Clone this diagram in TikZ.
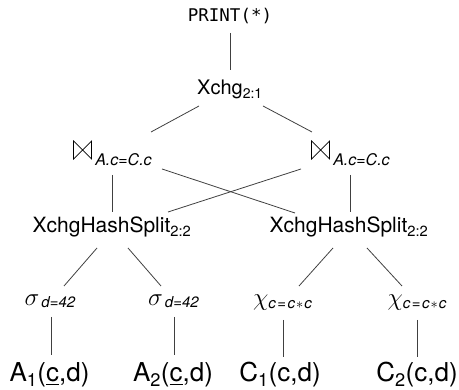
\documentclass[tikz,border=0pt]{standalone}
\usepackage{fontspec}
\usepackage{graphicx}
\setmainfont{TeX Gyre Heros}
\newfontfamily\monofont{DejaVu Sans Mono}
\usetikzlibrary{calc}
\tikzset{
  lbl/.style={inner sep=0pt, anchor=base},
  edge/.style={draw=black!75, line width=0.8pt},
  bowtie/.style={draw=black, line width=0.7pt, line join=miter},
}
\newcommand\fs[1]{\fontsize{#1}{#1}\selectfont}
\newcommand\joinlbl{\hspace{22pt}\raisebox{-7pt}{\fs{16}\itshape A.c=C.c}}
\newcommand\sellbl{{\fs{23}$\sigma$}\hspace{2pt}\raisebox{-2pt}{\fs{15}\itshape d=42}}
\newcommand\maplbl{{\fs{23}$\chi$}\raisebox{-3pt}{\fs{15}\itshape c\kern1.5pt=\kern1.5pt c\kern1pt$\ast$\kern1pt c}}
\begin{document}
\begin{tikzpicture}[x=1pt,y=-1pt]
\useasboundingbox (0,0) rectangle (459,390);
% nodes
\node[lbl] (pr) at (230,22) {\monofont\fs{17.5}PRINT(*)};
\node[lbl] (xc) at (230,95) {\fs{20}Xchg\textsubscript{2:1}};
\node[lbl] (jl) at (112.5,159) {\joinlbl};
\node[lbl] (jr) at (350.5,159) {\joinlbl};
\node[lbl] (sl) at (112,233) {\fs{21}XchgHashSplit\textsubscript{2:2}};
\node[lbl] (sr) at (349,233) {\fs{21}XchgHashSplit\textsubscript{2:2}};
\node[lbl] (s1) at (50,306) {\sellbl};
\node[lbl] (s2) at (173.5,306) {\sellbl};
\node[lbl] (x1) at (282.5,306) {\maplbl};
\node[lbl] (x2) at (417,306) {\maplbl};
\node[lbl] (a1) at (49.5,382) {\fs{26}A\textsubscript{1}(\underline{c},d)};
\node[lbl] (a2) at (173,382) {\fs{26}A\textsubscript{2}(\underline{c},d)};
\node[lbl] (c1) at (280,382) {\fs{26}C\textsubscript{1}(c,d)};
\node[lbl] (c2) at (417,382) {\fs{26}C\textsubscript{2}(c,d)};
% join symbols
\foreach \j in {jl,jr}{
  \draw[bowtie] ($(\j.base west)+(0.5,0)$) -- ++(0,-18) -- ++(18,18) -- ++(0,-18) -- cycle;
}
% edges
\draw[edge] ($(pr.base)+(0,11)$) -- ($(xc.base)+(0,-25)$);
\draw[edge] ($(xc.base)+(-31,11)$) -- ($(jl.base)+(38.5,-27)$);
\draw[edge] ($(xc.base)+(33,11)$) -- ($(jr.base)+(-38.5,-27)$);
\draw[edge] ($(jl.base)+(0,16)$) -- ($(jl.base |- sl.base)+(0,-21)$);
\draw[edge] ($(jl.base)+(49.5,10)$) -- ($(sr.base)+(-54,-20)$);
\draw[edge] ($(jr.base)+(-49.5,10)$) -- ($(sl.base)+(56,-21)$);
\draw[edge] ($(jr.base)+(0,16)$) -- ($(jr.base |- sr.base)+(0,-21)$);
\draw[edge] ($(sl.base)+(-15,15)$) -- ($(s1.base)+(14,-20)$);
\draw[edge] ($(sl.base)+(16,15)$) -- ($(s2.base)+(-12.5,-20)$);
\draw[edge] ($(sr.base)+(-16,15)$) -- ($(x1.base)+(16.5,-20)$);
\draw[edge] ($(sr.base)+(18,15)$) -- ($(x2.base)+(-15,-20)$);
\draw[edge] ($(s1.base)+(1,11)$) -- ($(s1.base |- a1.base)+(1,-27)$);
\draw[edge] ($(s2.base)+(0.5,11)$) -- ($(s2.base |- a2.base)+(0.5,-27)$);
\draw[edge] ($(x1.base)+(0.5,14)$) -- ($(x1.base |- c1.base)+(0.5,-25)$);
\draw[edge] ($(x2.base)+(0,14)$) -- ($(x2.base |- c2.base)+(0,-25)$);
\end{tikzpicture}
\end{document}
